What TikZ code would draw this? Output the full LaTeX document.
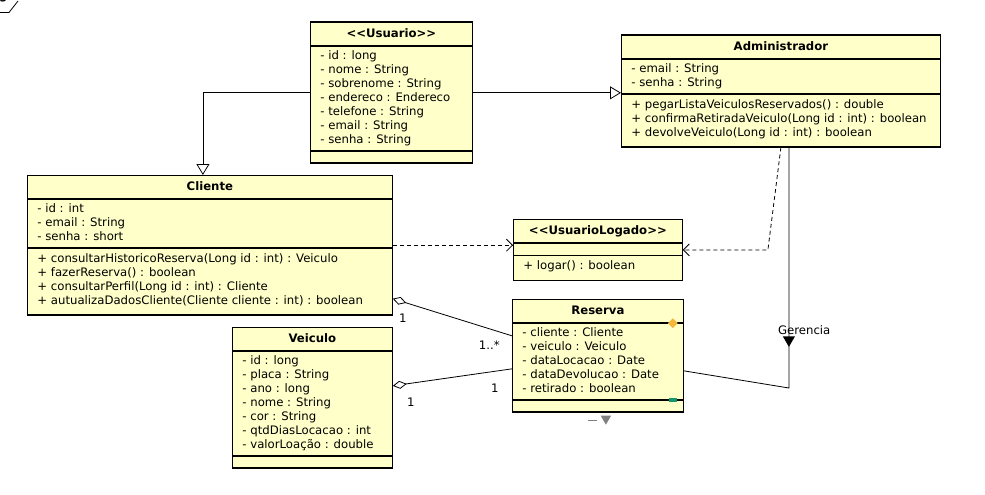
\documentclass[tikz,border=0pt]{standalone}
\usepackage{fontspec}
\setmainfont{DejaVu Sans}[Ligatures=TeXOff]
\usepackage{tikz}
\usetikzlibrary{shapes.multipart,shapes.geometric,arrows.meta,positioning}

\definecolor{umlyellow}{HTML}{FFFFCA}
\definecolor{marcalaranja}{HTML}{F5B83D}
\definecolor{marcaverde}{HTML}{12996B}

\newcommand{\titulo}[1]{\begin{tabular}{@{}c@{}}\rule[-5.7pt]{0pt}{17pt}\textbf{#1}\end{tabular}}
\newcommand{\atributos}[1]{\begin{tabular}{@{}l@{}}#1\end{tabular}}
\newcommand{\metodos}[1]{\begin{tabular}{@{}l@{}}\rule{0pt}{11pt}#1\\[3pt]\end{tabular}}

\begin{document}
\begin{tikzpicture}[x=1pt, y=-1pt,
  font=\fontsize{11.7}{14}\selectfont,
  classe/.style={rectangle split, rectangle split parts=3, draw, line width=0.8pt,
    fill=umlyellow, anchor=north west, inner xsep=10pt, inner ysep=3pt,
    rectangle split part align={center,left,left},
    rectangle split empty part height=5pt, rectangle split empty part depth=0pt,
    postaction={draw, line width=1.8pt}},
  heranca/.style={-{Triangle[open, length=11pt, width=13pt]}, line width=0.8pt},
  usa/.style={dash pattern=on 4pt off 3pt, -{Straight Barb[length=6pt, width=12pt]}, line width=0.8pt},
  agrega/.style={{Diamond[open, length=14pt, width=8pt]}-, line width=0.8pt},
  mult/.style={inner sep=0pt}]

\useasboundingbox (0,0) rectangle (985,495);

% aba do pacote
\node[font=\fontsize{11.7}{14}\selectfont\bfseries, anchor=base west, inner sep=0pt] (aba) at (-1,0) {g};
\draw[line width=0.8pt] (-2,12.5) -- (9,12.5) -- (18,1);

% classes
\node[classe, minimum width=162pt] (usuario) at (310,22) {\titulo{<<Usuario>>}
  \nodepart{two}\atributos{- id : long\\- nome : String\\- sobrenome : String\\- endereco : Endereco\\- telefone : String\\- email : String\\- senha : String}
  \nodepart{three}};
\node[classe, minimum width=319pt] (admin) at (621,35) {\titulo{Administrador}
  \nodepart{two}\atributos{- email : String\\- senha : String}
  \nodepart{three}\metodos{+ pegarListaVeiculosReservados() : double\\+ confirmaRetiradaVeiculo(Long id : int) : boolean\\+ devolveVeiculo(Long id : int) : boolean}};
\node[classe, minimum width=365pt] (cliente) at (27,175) {\titulo{Cliente}
  \nodepart{two}\atributos{- id : int\\- email : String\\- senha : short}
  \nodepart{three}\metodos{+ consultarHistoricoReserva(Long id : int) : Veiculo\\+ fazerReserva() : boolean\\+ consultarPerfil(Long id : int) : Cliente\\+ autualizaDadosCliente(Cliente cliente : int) : boolean}};
\node[classe, minimum width=169pt, rectangle split empty part height=1pt] (logado) at (513,219) {\titulo{<<UsuarioLogado>>}
  \nodepart{two}
  \nodepart{three}\metodos{+ logar() : boolean}};
\node[classe, minimum width=171pt] (reserva) at (512,299) {\titulo{Reserva}
  \nodepart{two}\atributos{- cliente : Cliente\\- veiculo : Veiculo\\- dataLocacao : Date\\- dataDevolucao : Date\\- retirado : boolean}
  \nodepart{three}};
\node[classe, minimum width=160pt] (veiculo) at (232,327) {\titulo{Veiculo}
  \nodepart{two}\atributos{- id : long\\- placa : String\\- ano : long\\- nome : String\\- cor : String\\- qtdDiasLocacao : int\\- valorLoação : double}
  \nodepart{three}};

% marcas da Reserva
\node[diamond, fill=marcalaranja, inner sep=0pt, minimum size=10pt] (losango) at ([xshift=-11pt]reserva.text split east) {};
\node[fill=marcaverde, inner sep=0pt, minimum width=8pt, minimum height=4pt] (marca) at ([xshift=-11pt]reserva.two split east) {};
\draw[gray, line width=1.5pt] ([xshift=-10pt,yshift=-8pt]reserva.south) -- ++(9,0);
\node[regular polygon, regular polygon sides=3, shape border rotate=180, fill=gray, minimum size=12pt, inner sep=0pt] (setinha) at ([xshift=8pt,yshift=-6pt]reserva.south) {};

% arrows
\draw[heranca] (usuario.west) -| ([xshift=-7pt]cliente.north);
\draw[heranca] (usuario.east) -- (usuario.east -| admin.west);
\draw[usa] (cliente.east) -- (cliente.east -| logado.west);
\draw[usa] (admin.south) -- ([xshift=-13pt]admin.south |- logado.east) -- (logado.east);
\draw[agrega] ([yshift=-53.5pt]cliente.east) -- node[mult, at start, below right=15pt and 6pt] {1}
  node[mult, at end, below left=5pt and 12pt] {1..*} ([yshift=20pt]reserva.west);
\draw[agrega] ([yshift=12pt]veiculo.east) -- node[mult, at start, below right=12pt and 14pt] {1}
  node[mult, at end, below left=15pt and 13pt] {1} ([yshift=-13pt]reserva.west);
\coordinate (canto) at ([xshift=8pt]admin.south |- 0,388);
\draw[line width=0.8pt] ([xshift=8pt]admin.south) -- node[pos=0.8, regular polygon, regular polygon sides=3,
  shape border rotate=180, fill, minimum size=14pt, inner sep=0pt] (gseta) {} (canto) -- ([yshift=-15pt]reserva.east);
\node[anchor=south west, inner sep=0pt] (gerencia) at ([xshift=-11pt,yshift=1pt]gseta.north) {Gerencia};

\end{tikzpicture}
\end{document}
